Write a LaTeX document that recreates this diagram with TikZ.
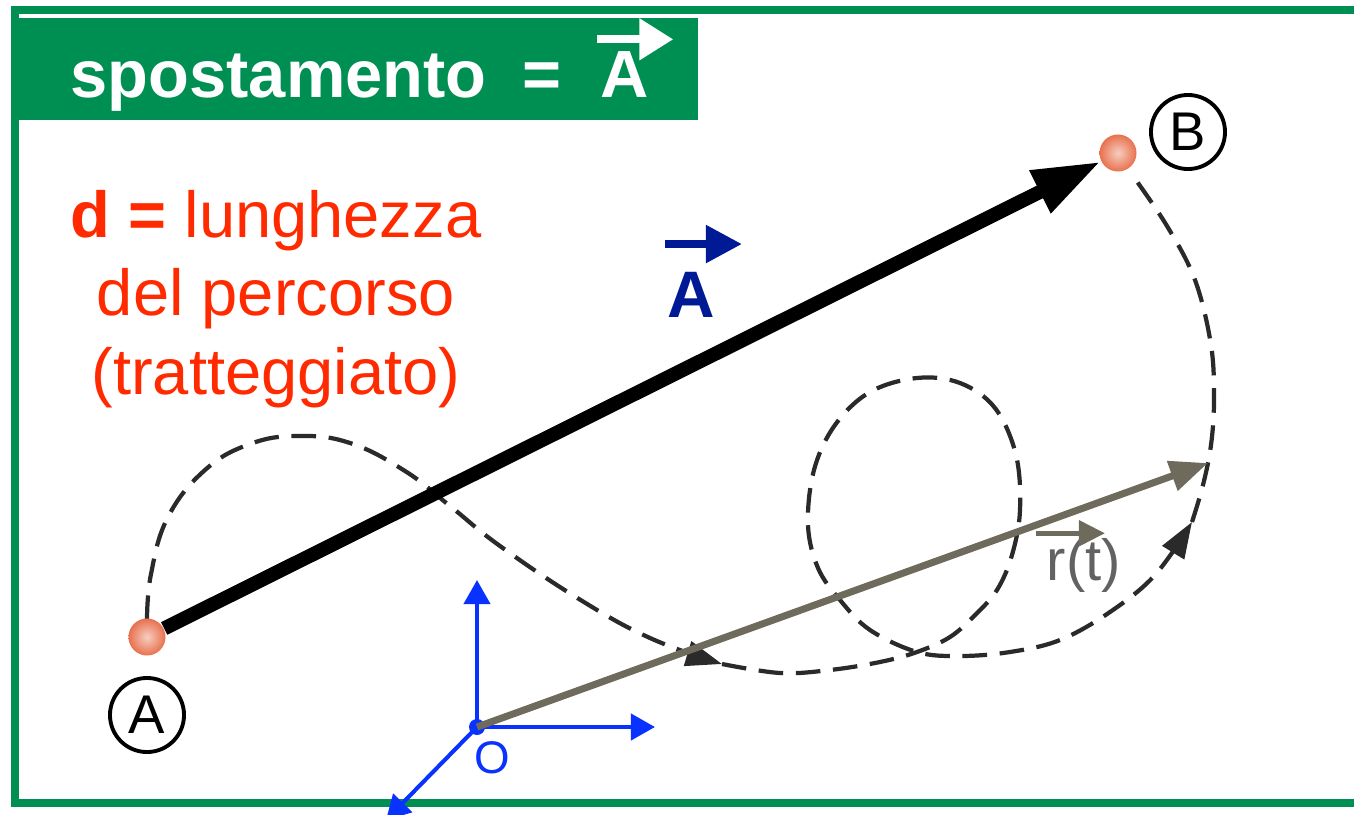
\documentclass[tikz,border=0pt]{standalone}
\usepackage{fontspec}
\setmainfont{Liberation Sans}
\usetikzlibrary{arrows.meta,positioning}
\definecolor{grn}{HTML}{008F52}
\definecolor{redt}{HTML}{FF2A00}
\definecolor{navy}{HTML}{001A96}
\definecolor{axb}{HTML}{0A32FF}
\definecolor{olv}{HTML}{6E6A5C}
\definecolor{gryt}{HTML}{626262}
\definecolor{ballc}{HTML}{E8714E}
\definecolor{trkc}{HTML}{2A2A2A}
\tikzset{
  frm/.style={grn, line width=2pt},
  hdr/.style={text=white, inner sep=0pt, font=\fontsize{19}{22}\selectfont\bfseries},
  hvec/.style={white, line width=2.3pt, -{Triangle[length=0.34cm,width=0.4cm]}},
  dtxt/.style={text=redt, align=center, inner sep=0pt, font=\fontsize{18.5}{22.2}\selectfont},
  vlab/.style={text=navy, inner sep=0pt, font=\fontsize{18.7}{22}\selectfont\bfseries},
  bvec/.style={navy, line width=2.3pt, -{Triangle[length=0.36cm,width=0.36cm]}},
  rlab/.style={text=gryt, inner sep=0pt, font=\fontsize{16.5}{20}\selectfont},
  rvec/.style={olv, line width=1.4pt, -{Triangle[length=0.26cm,width=0.25cm]}},
  olab/.style={text=axb, inner sep=0pt, font=\fontsize{13}{15}\selectfont},
  pt/.style={circle, inner sep=0pt, minimum size=0.37cm, shading=radial,
    inner color=ballc!35!white, outer color=ballc},
  circ/.style={circle, draw, line width=1.1pt, inner sep=0pt, minimum size=0.74cm, font=\fontsize{15.5}{18}\selectfont},
  org/.style={circle, fill=axb, inner sep=0pt, minimum size=0.16cm},
  disp/.style={line width=4pt, -{Triangle[length=0.68cm,width=0.44cm]}},
  posv/.style={olv, line width=2pt, -{Triangle[length=0.38cm,width=0.3cm]}},
  ax/.style={axb, line width=1.15pt, -{Triangle[length=0.24cm,width=0.26cm]}},
  trkl/.style={trkc, line width=1.2pt, dash pattern=on 7pt off 3.6pt},
  trka/.style={trkl, -{Triangle[length=0.36cm,width=0.25cm]}},
}

\begin{document}
\begin{tikzpicture}[x=0.01cm, y=0.01cm]
  \useasboundingbox (0,0) rectangle (1354,814);
  \draw[frm] (1354,804) -- (15,804) -- (15,11) -- (1354,11);
  \fill[grn] (15,694) rectangle (698,796);
  \node[hdr, anchor=base west] (hsp) at (70,717) {spostamento\hspace{0.36cm}=};
  \node[hdr, anchor=base west] (hA) at ([xshift=0.38cm]hsp.base east) {A};
  \draw[hvec] ([shift={(-3,11)}]hA.north west) -- ++(76,0);
  \node[dtxt, anchor=base] (dlen) at (276,420) {\textbf{d =} lunghezza\\del percorso\\(tratteggiato)};
  % path followed
  \draw[trka] plot[smooth, tension=0.7] coordinates {(147,194) (151,240) (168,297) (205,344) (250,370)
    (298,378) (350,371) (405,343) (450,308) (500,268) (579,215) (650,176) (722,150)};
  \draw[trka] plot[smooth, tension=0.6] coordinates {(722,150) (780,141) (830,144) (880,152) (917,162)
    (950,177) (975,199) (997,224) (1012,259) (1020,304) (1016,359) (995,406) (960,431) (917,436)
    (870,422) (835,389) (814,344) (808,289) (818,246) (840,214) (870,184) (917,162) (960,158)
    (1010,162) (1060,174) (1110,202) (1155,239) (1192,292)};
  \draw[trkl] plot[smooth, tension=0.6] coordinates {(1192,292) (1203,329) (1211,369) (1214,414)
    (1211,469) (1195,534) (1167,588) (1133,638)};
  \node[pt] (Pa) at (147,177) {};
  \node[pt] (Pb) at (1118,661) {};
  \node[circ] (La) at (147,99) {A};
  \node[circ] (Lb) at (1188,682) {B};
  \draw[disp] (Pa) -- (Pb);
  \node[org] (O) at (477,87) {};
  \coordinate (xa) at (655,87);
  \coordinate (ya) at (477,234);
  \coordinate (za) at (386,-6);
  \draw[ax] (O.center) -- (xa);
  \draw[ax] (O.center) -- (ya);
  \draw[ax] (O.center) -- (za);
  \coordinate (rend) at (1208,351);
  \draw[posv] (O.center) -- (rend);
  \node[olab, anchor=base] (Ol) at (492,41) {O};
  \node[vlab, anchor=base] (vA) at (691,497) {A};
  \draw[bvec] ([shift={(-26,27)}]vA.north) -- ++(77,0);
  \node[rlab, anchor=base west] (rt) at (1046,234) {r(t)};
  \draw[rvec] ([shift={(-10,4)}]rt.north west) -- ++(69,0);
\end{tikzpicture}
\end{document}
